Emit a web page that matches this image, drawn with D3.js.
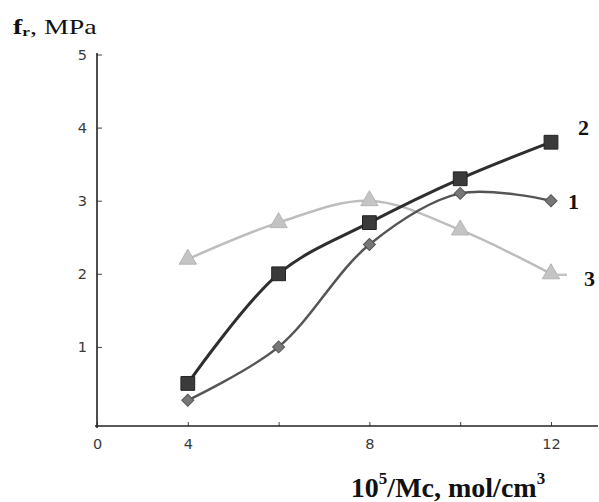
<!DOCTYPE html>
<html><head><meta charset="utf-8">
<script src="https://cdn.jsdelivr.net/npm/d3@7"></script>
<style>body{margin:0;background:#fff}svg{display:block}</style>
</head><body>
<svg id="c" width="599" height="502"></svg>
<script>
const categories = ["0","4","6","8","10","12"];
const xLabelsShown = ["0","4","8","12"];
const yTicks = [1,2,3,4,5];
const dataX = ["4","6","8","10","12"];
const series1 = [0.27, 1.0, 2.4, 3.1, 3.0];
const series2 = [0.5, 2.0, 2.7, 3.3, 3.8];
const series3 = [2.2, 2.7, 3.0, 2.6, 2.0];
const seriesNames = ["1","2","3"];

const svg = d3.select("#c");
const x = d3.scalePoint().domain(categories).range([97, 551]);
const y = d3.scaleLinear().domain([0,5]).range([420, 54.5]);
const axisY = 426;

// axes
const gx = svg.append("g").attr("transform",`translate(0,${axisY})`)
  .call(d3.axisBottom(x).tickSize(-4).tickPadding(13)
    .tickFormat(d => xLabelsShown.includes(d) ? d : ""));
gx.select(".domain").remove();
gx.append("line").attr("x1",95).attr("x2",598).attr("stroke","#222").attr("stroke-width",1.6);
gx.selectAll(".tick line").attr("stroke","#444");
gx.selectAll(".tick text").attr("font-family","DejaVu Sans, sans-serif").attr("font-size",14.5).attr("fill","#3a3a3a");

const gy = svg.append("g").attr("transform","translate(97,0)")
  .call(d3.axisLeft(y).tickValues(yTicks).tickFormat(d3.format("d")).tickSize(-5).tickPadding(10));
gy.select(".domain").remove();
gy.append("line").attr("y1",53).attr("y2",axisY+2).attr("stroke","#222").attr("stroke-width",1.6);
gy.selectAll(".tick line").attr("stroke","#444");
gy.selectAll(".tick text").attr("font-family","DejaVu Sans, sans-serif").attr("font-size",14.5).attr("fill","#3a3a3a");

const line = d3.line().x(d => x(d[0])).y(d => y(d[1])).curve(d3.curveCatmullRom.alpha(0.5));

function draw(vals, color, width, marker, mcolor, mstroke, msize, rot) {
  const pts = dataX.map((c,i) => [c, vals[i]]);
  svg.append("path").datum(pts).attr("d", line).attr("fill","none")
    .attr("stroke", color).attr("stroke-width", width);
  svg.append("g").selectAll("path").data(pts).join("path")
    .attr("transform", d => `translate(${x(d[0])},${y(d[1])}) rotate(${rot||0})`)
    .attr("d", d3.symbol().type(marker).size(msize))
    .attr("fill", mcolor).attr("stroke", mstroke).attr("stroke-width", 1);
  return pts;
}
draw(series3, "#bdbdbd", 2.5, d3.symbolTriangle, "#c4c4c4", "#b5b5b5", 130);
// short leader after last triangle
svg.append("line").attr("x1", x("12")+6).attr("x2", x("12")+16)
  .attr("y1", y(series3[4])+1).attr("y2", y(series3[4])+1).attr("stroke","#c4c4c4").attr("stroke-width",2.5);
draw(series1, "#555", 2.5, d3.symbolSquare, "#777", "#555", 72, 45);
draw(series2, "#2e2e2e", 3, d3.symbolSquare, "#3a3a3a", "#222", 190);

// series labels
const lab = [[seriesNames[1],"12",series2[4], 27, -7],[seriesNames[0],"12",series1[4], 17, 8],[seriesNames[2],"12",series3[4], 33, 12]];
lab.forEach(([t,c,v,dx,dy]) => svg.append("text").attr("x", x(c)+dx).attr("y", y(v)+dy)
  .attr("font-family","Liberation Serif, serif").attr("font-weight","bold").attr("font-size",22)
  .attr("fill","#111").text(t));

// y title (horizontally stretched as in the reference)
const yt = svg.append("text").attr("transform","translate(13,34) scale(1.33,1)")
  .attr("font-family","Liberation Serif, serif").attr("font-size",21).attr("fill","#111");
yt.append("tspan").attr("font-weight","bold").text("f");
yt.append("tspan").attr("font-weight","bold").attr("font-size",13).attr("dy",2).text("r");
yt.append("tspan").attr("dy",-2).text(", MPa");

// x title
const xt = svg.append("text").attr("x",448).attr("y",497).attr("text-anchor","middle")
  .attr("font-family","Liberation Serif, serif").attr("font-weight","bold").attr("font-size",28).attr("fill","#111");
xt.append("tspan").text("10");
xt.append("tspan").attr("font-size",17).attr("dy",-13).text("5");
xt.append("tspan").attr("dy",13).text("/Mc, mol/cm");
xt.append("tspan").attr("font-size",17).attr("dy",-13).text("3");
</script>
</body></html>
